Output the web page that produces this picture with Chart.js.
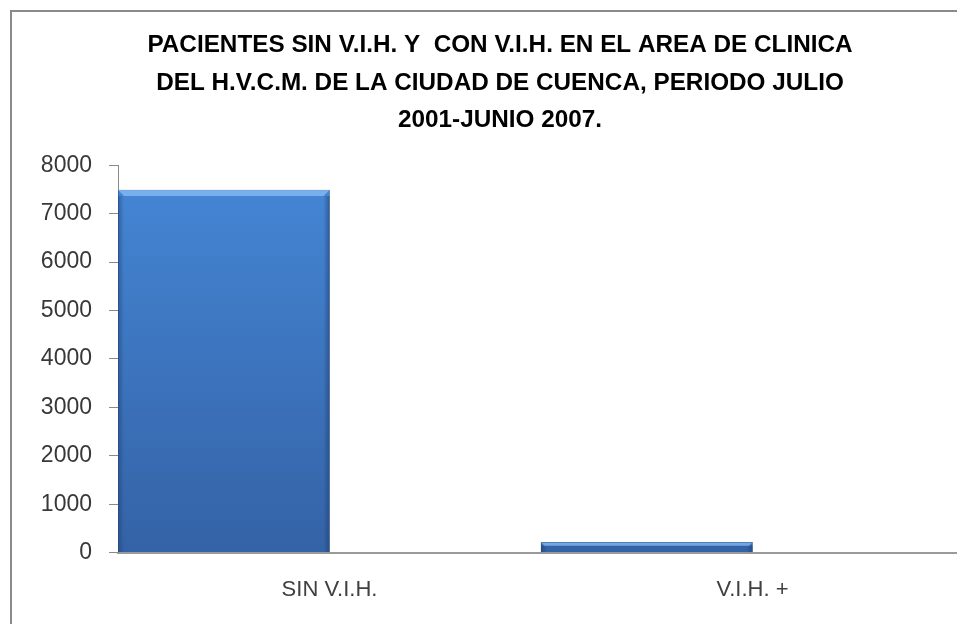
<!DOCTYPE html>
<html>
<head>
<meta charset="utf-8">
<script src="https://cdn.jsdelivr.net/npm/chart.js@4"></script>
<style>
  html, body { margin: 0; padding: 0; background: #fff; overflow: hidden; }
  #marco {
    position: absolute; left: 10px; top: 10px;
    width: 975px; height: 612px;
    border-left: 2px solid #8a8a8a; border-top: 2px solid #8a8a8a;
    background: #fff;
  }
  canvas { display: block; }
</style>
</head>
<body>
<div id="marco"><canvas id="grafico" width="975" height="612"></canvas></div>
<script>
const categorias = ['SIN V.I.H.', 'V.I.H. +'];
const pacientes = [7490, 210];
const vacio = [null, null]; // segunda serie sin datos, deja la barra a la izquierda
const tituloLineas = [
    'PACIENTES SIN V.I.H. Y  CON V.I.H. EN EL AREA DE CLINICA',
    'DEL H.V.C.M. DE LA CIUDAD DE CUENCA, PERIODO JULIO',
    '2001-JUNIO 2007.'
];
const yMax = 8000;
const yPaso = 1000;

// degradado vertical tipo Excel
const rellenoBarra = (ctx) => {
    const area = ctx.chart.chartArea;
    if (!area) return '#3f7cc8';
    const g = ctx.chart.ctx.createLinearGradient(0, area.top, 0, area.bottom);
    g.addColorStop(0, '#4587d6');
    g.addColorStop(1, '#3462a6');
    return g;
};

// brillo superior y bordes oscuros de cada barra
const bisel = {
    id: 'bisel',
    afterDatasetsDraw(chart) {
        const c = chart.ctx;
        chart.getDatasetMeta(0).data.forEach(bar => {
            const {x, y, base, width} = bar.getProps(['x', 'y', 'base', 'width'], true);
            const l = x - width / 2, r = x + width / 2;
            const h = base - y;
            if (h <= 0) return;
            const t = Math.min(6, h / 3);
            c.save();
            c.fillStyle = 'rgba(140,190,245,0.75)';
            c.beginPath();
            c.moveTo(l, y); c.lineTo(r, y); c.lineTo(r - t, y + t); c.lineTo(l + t, y + t);
            c.closePath(); c.fill();
            const gl = c.createLinearGradient(l, 0, l + 6, 0);
            gl.addColorStop(0, 'rgba(25,55,100,0.45)');
            gl.addColorStop(1, 'rgba(25,55,100,0)');
            c.fillStyle = gl;
            c.fillRect(l, y + t, 6, h - t);
            const gr = c.createLinearGradient(r, 0, r - 6, 0);
            gr.addColorStop(0, 'rgba(25,55,100,0.5)');
            gr.addColorStop(1, 'rgba(25,55,100,0)');
            c.fillStyle = gr;
            c.fillRect(r - 6, y + t, 6, h - t);
            c.restore();
        });
    }
};

new Chart(document.getElementById('grafico'), {
    type: 'bar',
    data: {
        labels: categorias,
        datasets: [
            {
                label: 'Pacientes',
                data: pacientes,
                backgroundColor: rellenoBarra,
                borderColor: '#2d5a96',
                borderWidth: 1,
                categoryPercentage: 1.0,
                barPercentage: 1.0
            },
            {
                label: '',
                data: vacio,
                categoryPercentage: 1.0,
                barPercentage: 1.0
            }
        ]
    },
    options: {
        responsive: false,
        animation: false,
        layout: {padding: {left: 24, right: 23, top: 0, bottom: -3}},
        plugins: {
            legend: {display: false},
            tooltip: {enabled: false},
            title: {
                display: true,
                text: tituloLineas,
                color: '#000',
                font: {family: 'Liberation Sans', size: 24.3, weight: 'bold', lineHeight: 1.54},
                padding: {top: 15, bottom: 26}
            }
        },
        scales: {
            x: {
                grid: {display: false, drawTicks: false},
                border: {display: true, color: '#9a9a9a', width: 2},
                ticks: {
                    color: '#404040',
                    padding: 24,
                    font: {family: 'Liberation Sans', size: 22}
                }
            },
            y: {
                min: 0,
                max: yMax,
                afterFit: (scale) => { scale.width = 82; },
                grid: {drawOnChartArea: false, drawTicks: true, tickLength: 9, color: '#8a8a8a'},
                border: {display: true, color: '#8a8a8a', width: 1},
                ticks: {
                    stepSize: yPaso,
                    color: '#383838',
                    padding: 17,
                    font: {family: 'Liberation Sans', size: 23},
                    callback: (v) => String(v)
                }
            }
        }
    },
    plugins: [bisel]
});
</script>
</body>
</html>
